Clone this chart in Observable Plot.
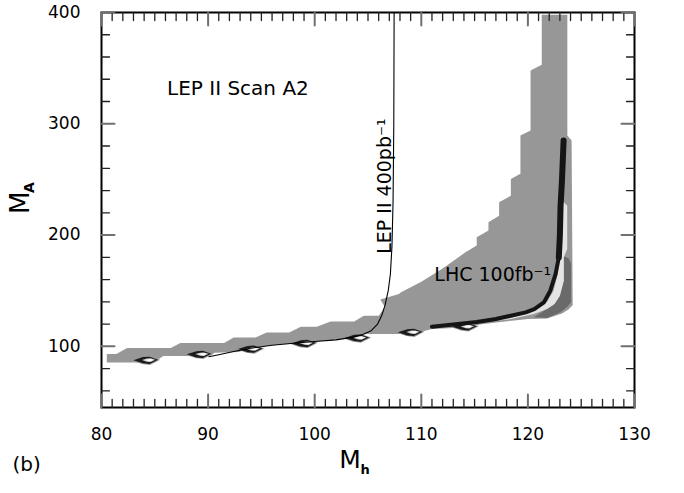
<!DOCTYPE html>
<html><head><meta charset="utf-8">
<script src="https://cdn.jsdelivr.net/npm/d3@7"></script>
<script src="https://cdn.jsdelivr.net/npm/@observablehq/plot@0.6"></script>
<style>body{margin:0;background:#fff} svg{display:block}</style>
</head><body><div id="chart"></div>
<script>
// ---- tick values ----
const xTicks = [80, 90, 100, 110, 120, 130];
const yTicks = [100, 200, 300, 400];
const xMinor = d3.range(81, 130).filter(v => v % 10 !== 0);
const yMinor = d3.range(60, 400, 20).filter(v => v % 100 !== 0);

// ---- main (medium gray) allowed region, outline [Mh, MA] ----
const grayRegion = [
  [80.5,85.5],[80.5,93.1],[81.4,93.1],[82.4,98.5],[86.5,98.5],[87.4,103],[91.5,103],[92.4,108],
  [94.45,108],[95.5,112.5],[97.6,112.5],[98.7,117.6],[100.2,117.6],[101.5,122.4],[103.7,122.4],
  [104.6,127.5],[106.0,127.5],[106.6,135],[106.15,142],[107.9,147],[108.1,148.5],[110,158],
  [112,170],[114.15,184.5],[115.2,190.5],[115.2,198],[116.3,204],[116.3,211.4],[117.3,217.4],
  [117.3,229.4],[118.4,235.4],[118.4,250.4],[119.3,255],[119.3,289.4],[120.25,293.9],
  [120.25,347.8],[121.3,353],[121.3,398],[123.7,398],[123.7,289.4],[124.1,285],[124.2,137],
  [123.8,133],[123.2,129.5],[121.8,125],[120,124.5],[118.5,123],[117,121.5],[115.5,119.5],
  [114.2,116],[113,116.5],[111,115.5],[110.2,113.5],[109.2,110.5],[108,111],[104.9,111],
  [104.5,110.5],[103.5,108],[102,105.8],[100,104.3],[98,102.8],[96,101],[94,98.3],[93.5,97.2],
  [92.9,94.8],[90.6,94.3],[90.3,92],[89.3,90.5],[88.1,91.2],[85.8,91.2],[85.2,87.5],
  [84.4,84.5],[83.2,85.5]
];

// ---- small contour islands along the lower edge ----
const diamondCenters = [[84.3,87.5],[89.3,92.8],[94.1,97.5],[99.1,102.6],[104.1,107.5],[109.1,112.6],[114.2,117.6]];
const diamondHalo  = [[-1.5,0],[-0.5,3.2],[0.25,3.6],[1.2,0.5],[0.25,-4.2],[-0.5,-3.4]];
const diamondOuter = [[-1.3,0],[-0.4,2.8],[0.2,3.2],[1.0,0.5],[0.2,-3.4],[-0.4,-2.8]];
const diamondMid   = [[-0.5,0.2],[-0.05,1.5],[0.3,1.7],[0.75,0.5],[0.3,-1.6],[-0.05,-1.3]];
const diamondInner = [[-0.2,0.3],[0.1,0.9],[0.35,1.0],[0.55,0.5],[0.35,-0.8],[0.1,-0.6]];

// ---- LHC 100 fb^-1 bands ----
const lhcDark = [[123.37,181],[123.84,179],[124.05,174.5],[124.05,139.5],[123.7,135.6],[123.06,130.5],
  [121.8,125.4],[120.55,126],[121.8,133.5],[122.5,138],[123.0,145.5],[123.37,159]];
const lhcLight = [[123.22,231],[123.69,226.4],[123.69,187.5],[123.37,180],[123.37,159],[123.0,145.5],
  [122.5,138],[121.8,133.5],[120.55,129],[118.4,124.5],[117.1,123],[117.4,126],[120.55,132],
  [121.8,140],[122.4,150],[122.8,165],[123.0,189],[123.05,222]];
const lhcLineLower = [[111.0,117.5],[113,119.5],[115.2,121.8],[117,124.5],[118.4,127.5],[119.8,130.5],
  [120.6,133.5],[121.5,139.5],[122.1,150],[122.6,165],[122.9,180],[123.0,200]];
const lhcLineUpper = [[122.9,180],[123.0,200],[123.06,225],[123.2,250],[123.35,285]];

// ---- LEP II 400 pb^-1 curve ----
const lepLine = [[90.07,90.6],[91,92.4],[92.4,95.3],[94,98.3],[96,101],[98,102.8],[100,104.3],[102,105.8],
  [103.5,108],[104.5,110.5],[105.3,114],[105.9,120],[106.3,128],[106.6,137],[106.9,150],[107.1,165],
  [107.25,190],[107.35,230],[107.42,300],[107.45,400]];

// ---- annotations ----
const notes = [
  {text: "LEP II Scan A2", x: 92.8, y: 332, rotate: 0, size: 20},
  {text: "LEP II 400pb\u207B\u00B9", x: 106.55, y: 244, rotate: -90, size: 19},
  {text: "LHC 100fb\u207B\u00B9", x: 116.7, y: 164.5, rotate: 0, size: 19}
];

const xDomain = [80, 130], yDomain = [45, 400];
const pts = arr => arr.map(([x, y]) => ({x, y}));
const islands = tmpl => diamondCenters.flatMap(([cx, cy], i) => tmpl.map(([dx, dy]) => ({x: cx + dx, y: cy + dy, id: i})));
const poly = (data, fill) => Plot.line(data, {x: "x", y: "y", z: data[0].id !== undefined ? "id" : null, fill, stroke: "none", curve: "linear-closed"});

const W = 684, H = 493, ML = 101, MR = 50, MT = 12, MB = 86;
const FW = W - ML - MR, FH = H - MT - MB;
// tick lengths (pixels) expressed in scale units so the ticks point inward
const xu = px => px * (xDomain[1] - xDomain[0]) / FW;
const yu = px => px * (yDomain[1] - yDomain[0]) / FH;
const minorLen = 8, majorLen = 13;

const xTickSegs = (vals, len) => vals.flatMap((v, i) => [
  {x: v, y: yDomain[0], id: "b" + i}, {x: v, y: yDomain[0] + yu(len), id: "b" + i},
  {x: v, y: yDomain[1], id: "t" + i}, {x: v, y: yDomain[1] - yu(len), id: "t" + i}
]);
const yTickSegs = (vals, len) => vals.flatMap((v, i) => [
  {y: v, x: xDomain[0], id: "l" + i}, {y: v, x: xDomain[0] + xu(len), id: "l" + i},
  {y: v, x: xDomain[1], id: "r" + i}, {y: v, x: xDomain[1] - xu(len), id: "r" + i}
]);

const chart = Plot.plot({
  width: W, height: H,
  marginLeft: ML, marginRight: MR, marginTop: MT, marginBottom: MB,
  style: {fontFamily: "DejaVu Sans", background: "white", color: "black"},
  x: {domain: xDomain, label: null},
  y: {domain: yDomain, label: null},
  marks: [
    poly(pts(grayRegion), "#979797"),
    poly(islands(diamondHalo), "#979797"),
    poly(islands(diamondOuter), "#1a1a1a"),
    poly(islands(diamondMid), "#d2d2d2"),
    poly(islands(diamondInner), "#ffffff"),
    poly(pts(lhcDark), "#6a6a6a"),
    poly(pts(lhcLight), "#e4e4e4"),
    Plot.line(pts(lhcLineLower), {x: "x", y: "y", stroke: "#151515", strokeWidth: 4, strokeLinecap: "round"}),
    Plot.line(pts(lhcLineUpper), {x: "x", y: "y", stroke: "#151515", strokeWidth: 6, strokeLinecap: "round"}),
    Plot.line(pts(lepLine), {x: "x", y: "y", stroke: "black", strokeWidth: 1.1}),
    Plot.text(notes, {x: "x", y: "y", text: "text", rotate: "rotate", fontSize: "size", fill: "black"}),
    // tick labels
    Plot.axisX(xTicks, {anchor: "bottom", tickSize: 0, tickPadding: 20, fontSize: 17, label: null}),
    Plot.axisY(yTicks, {anchor: "left", tickSize: 0, tickPadding: 21, fontSize: 17, label: null}),
    Plot.frame({stroke: "black", strokeWidth: 2}),
    // inward ticks on all four sides (drawn over the frame)
    Plot.line(xTickSegs(xMinor, minorLen), {x: "x", y: "y", z: "id", stroke: "#222", strokeWidth: 1.3}),
    Plot.line(xTickSegs(xTicks, majorLen), {x: "x", y: "y", z: "id", stroke: "#707070", strokeWidth: 2}),
    Plot.line(yTickSegs(yMinor, minorLen), {x: "x", y: "y", z: "id", stroke: "#222", strokeWidth: 1.3}),
    Plot.line(yTickSegs(yTicks, majorLen), {x: "x", y: "y", z: "id", stroke: "#707070", strokeWidth: 2}),
    // axis titles
    Plot.text(["(b)"], {frameAnchor: "bottom-left", dx: -89, dy: 63, fontSize: 20, fill: "black"}),
    Plot.text(["M"], {frameAnchor: "bottom", dx: -18, dy: 60, fontSize: 25, fill: "black"}),
    Plot.text(["h"], {frameAnchor: "bottom", dx: -3, dy: 66, fontSize: 13, fontWeight: "bold", fill: "black"}),
    Plot.text(["M"], {frameAnchor: "left", dx: -81, dy: 4, rotate: -90, fontSize: 26, fill: "black"}),
    Plot.text(["A"], {frameAnchor: "left", dx: -72, dy: -17, rotate: -90, fontSize: 14, fontWeight: "bold", fill: "black"})
  ]
});
document.getElementById("chart").append(chart);
</script></body></html>
